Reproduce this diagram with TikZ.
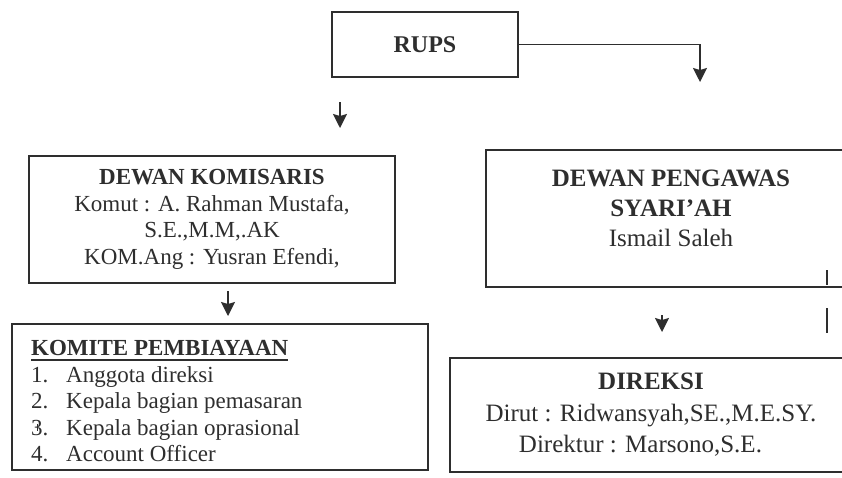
\documentclass[tikz,border=0pt]{standalone}
\usepackage{fontspec}
\setmainfont{Liberation Serif}
\usetikzlibrary{arrows.meta,positioning}
\tikzset{>={Stealth[length=14pt,width=14pt,inset=2pt]}}
\definecolor{ink}{gray}{0.18}
\tikzset{
  box/.style={draw=ink, line width=2pt, rectangle, inner sep=0pt, text=ink, align=center},
  isi/.style={inner sep=0pt, text=ink},
  conn/.style={draw=ink, line width=1.6pt, ->},
  kecil/.style={font=\fontsize{23}{26.5}\selectfont},
  besar/.style={font=\fontsize{25}{30}\selectfont},
}
\newcommand{\kitem}[2]{\makebox[35pt][l]{#1}#2}
\newcommand{\garis}[1]{\setbox0\hbox{#1}\rlap{\raisebox{-5pt}{\rule{\wd0}{2pt}}}\box0}

\begin{document}
\begin{tikzpicture}[x=1pt,y=-1pt]
\useasboundingbox (0,0) rectangle (842,477);
\clip (0,0) rectangle (842,477);

\node[box, font=\fontsize{24}{28}\selectfont, minimum width=186pt, minimum height=65pt] (rups) at (425,44.5) {\textbf{RUPS}};

\node[box, kecil, minimum width=366pt, minimum height=127pt] (komisaris) at (212,219.5)
  {\textbf{DEWAN KOMISARIS}\\Komut : A. Rahman Mustafa,\\S.E.,M.M,.AK\\KOM.Ang : Yusran Efendi,};

\node[box, minimum width=370pt, minimum height=137pt] (pengawas) at (671,218.5) {};
\node[isi, besar, align=center, below=21pt of pengawas.north] (pengawastext)
  {\textbf{DEWAN PENGAWAS}\\\textbf{SYARI'AH}\\Ismail Saleh};

\node[box, minimum width=416pt, minimum height=146pt] (komite) at (220,397) {};
\node[isi, kecil, align=left, below right=17.5pt and 20pt of komite.north west] (komitetext)
  {\garis{\textbf{KOMITE PEMBIAYAAN}}\\
   \kitem{1.}{Anggota direksi}\\
   \kitem{2.}{Kepala bagian pemasaran}\\
   \kitem{3.}{Kepala bagian oprasional}\\
   \kitem{4.}{Account Officer}};

\node[box, font=\fontsize{25}{31.5}\selectfont, minimum width=402pt, minimum height=114pt] (direksi) at (651,415)
  {\textbf{DIREKSI}\\Dirut : Ridwansyah,SE.,M.E.SY.\\Direktur : Marsono,S.E.\hspace*{21pt}};

\coordinate (rupskanan) at (700,82);
\coordinate (panahkiri) at (340,102);
\coordinate (panahkomite) at (228,291);
\coordinate (panahdireksi) at (662,315);

\draw[conn] (rups.east) -| (rupskanan);
\draw[conn] (panahkiri) -- ++(0,26);
\draw[conn] (panahkomite) -- ++(0,25);
\draw[conn] (panahdireksi) -- ++(0,17);

\draw[ink, line width=1.3pt] (827,270) -- (827,285);
\draw[ink, line width=1.3pt] (827,308) -- (827,333);
\draw[ink, line width=0.8pt] (37,424) -- (37,431);
\end{tikzpicture}
\end{document}
